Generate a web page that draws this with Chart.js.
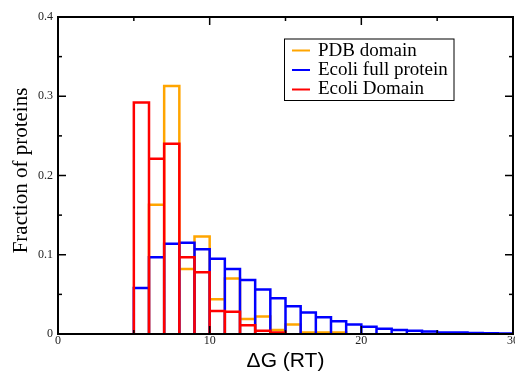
<!DOCTYPE html>
<html>
<head>
<meta charset="utf-8">
<script src="https://cdn.jsdelivr.net/npm/chart.js@4/dist/chart.umd.min.js"></script>
<style>
  html, body { margin: 0; padding: 0; background: #fff; }
  #wrap { width: 515px; height: 372px; position: relative; }
</style>
</head>
<body>
<div id="wrap"><canvas id="c" width="515" height="372"></canvas></div>
<script>
// ---- data ----
const binStart = 5;      // first bin left edge (ΔG in RT)
const binWidth = 1;
const seriesNames = ["PDB domain", "Ecoli full protein", "Ecoli Domain"];
const seriesColors = ["#FFA500", "#0000FF", "#FF0000"];
const pdbDomain = [0, 0.163, 0.313, 0.082, 0.123, 0.044, 0.070, 0.019, 0.022, 0.005, 0.012, 0.002, 0.002, 0.002];
const ecoliFull = [0.058, 0.097, 0.114, 0.115, 0.107, 0.095, 0.082, 0.068, 0.056, 0.045, 0.035, 0.027, 0.021, 0.016, 0.012, 0.009, 0.0065, 0.005, 0.004, 0.003, 0.002, 0.0018, 0.0012, 0.0008, 0.0005];
const ecoliDomain = [0.292, 0.221, 0.240, 0.097, 0.078, 0.029, 0.028, 0.011, 0.004, 0.002];
const xMajorTicks = [0, 10, 20, 30];
const xMinorTicks = [5, 15, 25];
const yMajorTicks = [0, 0.1, 0.2, 0.3, 0.4];
const yMinorTicks = [0.05, 0.15, 0.25, 0.35];
const xTickLabels = ["0", "10", "20", "30"];
const yTickLabels = ["0", "0.1", "0.2", "0.3", "0.4"];
const xTitle = "ΔG (RT)";
const yTitle = "Fraction of proteins";

// outline of a histogram (each bar's edges down to the baseline)
function outline(values) {
  const pts = [];
  let prevNonZero = false;
  values.forEach((v, i) => {
    const x0 = binStart + i * binWidth, x1 = x0 + binWidth;
    if (v <= 0) { prevNonZero = false; return; }
    if (!prevNonZero) pts.push({x: x0, y: 0});
    pts.push({x: x0, y: v}, {x: x1, y: v}, {x: x1, y: 0});
    prevNonZero = true;
  });
  return pts;
}

const seriesValues = [pdbDomain, ecoliFull, ecoliDomain];
const datasets = seriesValues.map((vals, k) => ({
  label: seriesNames[k],
  data: outline(vals),
  borderColor: seriesColors[k],
  backgroundColor: seriesColors[k],
  borderWidth: 2.5,
  pointRadius: 0,
  tension: 0,
  fill: false,
  borderJoinStyle: 'miter',
  borderCapStyle: 'butt',
  order: 3 - k
}));

const decorPlugin = {
  id: 'decor',
  afterDatasetsDraw(chart) {
    const {ctx, chartArea: a, scales: {x, y}} = chart;
    ctx.save();
    ctx.strokeStyle = '#000';
    ctx.lineWidth = 1.5;
    const seg = (x1, y1, x2, y2) => { ctx.beginPath(); ctx.moveTo(x1, y1); ctx.lineTo(x2, y2); ctx.stroke(); };
    const tickX = (v, len) => { const p = x.getPixelForValue(v); seg(p, a.bottom, p, a.bottom - len); seg(p, a.top, p, a.top + len); };
    const tickY = (v, len) => { const p = y.getPixelForValue(v); seg(a.left, p, a.left + len, p); seg(a.right, p, a.right - len, p); };
    xMajorTicks.forEach(v => tickX(v, 8));
    xMinorTicks.forEach(v => tickX(v, 4));
    yMajorTicks.forEach(v => tickY(v, 8));
    yMinorTicks.forEach(v => tickY(v, 4));
    ctx.lineWidth = 2;
    ctx.strokeRect(a.left, a.top, a.right - a.left, a.bottom - a.top);

    // legend box
    ctx.fillStyle = '#fff';
    ctx.fillRect(284.5, 39, 169.5, 61.5);
    ctx.lineWidth = 1;
    ctx.strokeRect(284.5, 39, 169.5, 61.5);
    const lineYs = [50.5, 70, 89.5];
    const textYs = [56, 75, 94.3];
    ctx.font = '19px "Liberation Serif"';
    ctx.textBaseline = 'alphabetic';
    ctx.textAlign = 'left';
    chart.data.datasets.forEach((ds, k) => {
      ctx.strokeStyle = ds.borderColor;
      ctx.lineWidth = 2;
      seg(292, lineYs[k], 310, lineYs[k]);
      ctx.fillStyle = '#000';
      ctx.fillText(ds.label, 318, textYs[k]);
    });

    // axis titles
    ctx.fillStyle = '#000';
    ctx.font = '21px "Liberation Sans"';
    ctx.textAlign = 'center';
    ctx.textBaseline = 'middle';
    ctx.fillText(xTitle, (a.left + a.right) / 2, 361);
    ctx.save();
    ctx.translate(21, 170.5);
    ctx.rotate(-Math.PI / 2);
    ctx.font = '21px "Liberation Serif"';
    ctx.fillText(yTitle, 0, 0);
    ctx.restore();
    ctx.restore();
  }
};

new Chart(document.getElementById('c'), {
  type: 'line',
  data: { datasets },
  options: {
    responsive: false,
    animation: false,
    events: [],
    layout: { padding: { top: 17, right: 2, left: 0, bottom: 0 } },
    plugins: { legend: { display: false }, tooltip: { enabled: false }, title: { display: false } },
    scales: {
      x: {
        type: 'linear', min: 0, max: 30,
        grid: { display: false, drawTicks: false },
        border: { display: false },
        ticks: {
          stepSize: 10, padding: 0, maxRotation: 0, autoSkip: false,
          color: '#222', font: { family: '"Liberation Serif"', size: 12 },
          callback: (v) => { const i = xMajorTicks.indexOf(v); return i >= 0 ? xTickLabels[i] : ''; }
        },
        afterFit(s) { s.height = 38; s.paddingLeft = 0; s.paddingRight = 0; }
      },
      y: {
        type: 'linear', min: 0, max: 0.4,
        grid: { display: false, drawTicks: false },
        border: { display: false },
        ticks: {
          stepSize: 0.1, padding: 5,
          color: '#222', font: { family: '"Liberation Serif"', size: 12 },
          callback: (v) => { const i = yMajorTicks.findIndex(t => Math.abs(t - v) < 1e-9); return i >= 0 ? yTickLabels[i] : ''; }
        },
        afterFit(s) { s.width = 58; s.paddingTop = 0; s.paddingBottom = 0; }
      }
    }
  },
  plugins: [decorPlugin]
});
</script>
</body>
</html>
